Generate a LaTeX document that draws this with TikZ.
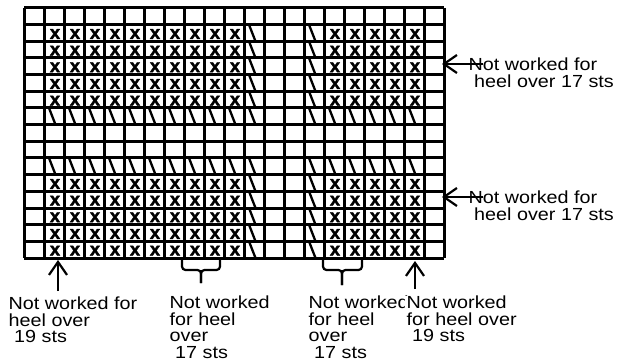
\documentclass[tikz,border=0pt]{standalone}
\usepackage{fontspec}
\setmainfont{Liberation Sans}
\newfontfamily\labfont[FakeStretch=1.13]{Liberation Sans}
\newfontfamily\xfont[FakeBold=2]{Liberation Sans Bold}
\usetikzlibrary{arrows.meta}
\begin{document}
\begin{tikzpicture}[x=1pt,y=-1pt,
  gridline/.style={line width=3pt},
  slashmark/.style={line width=2.3pt},
  xmark/.style={inner sep=0pt, font=\xfont\fontsize{18.5}{18.5}\selectfont},
  lab/.style={inner sep=0pt, anchor=north west, align=left, font=\labfont\fontsize{17.5}{16.7}\selectfont},
  arr/.style={line width=2.2pt, -{Straight Barb[length=13pt,width=18pt,line width=2.2pt]}},
  bracepath/.style={line width=2.2pt, rounded corners=3.5pt}
]
\useasboundingbox (0,0) rectangle (617,363);
\pgfmathsetmacro{\rh}{250/15}
% slashes in rows 7 and 10
\foreach \j in {6,9}{
  \foreach \i in {1,...,11,14,15,...,19}{
    \draw[slashmark] ({24+20*\i+5},{8+\rh*\j}) -- ({24+20*\i+11.5},{8+\rh*(\j+1)});
  }
}
% slashes in columns 12 and 15
\foreach \j in {1,...,5,10,11,...,14}{
  \foreach \i in {11,14}{
    \draw[slashmark] ({24+20*\i+5},{8+\rh*\j}) -- ({24+20*\i+11.5},{8+\rh*(\j+1)});
  }
}
% x marks
\foreach \j in {1,...,5,10,11,...,14}{
  \foreach \i in {1,...,10,15,16,...,19}{
    \node[xmark] (m-\i-\j) at ({24+20*\i+11},{8+\rh*(\j+0.5)+1}) {x};
  }
}
% grid
\foreach \i in {0,...,21}{
  \draw[gridline] ({24+20*\i},8) -- ({24+20*\i},258);
}
\foreach \j in {0,...,15}{
  \draw[gridline] (24,{8+\rh*\j}) -- (444,{8+\rh*\j});
}
% right arrows and labels
\coordinate (ra1) at (442,64);
\coordinate (rs1) at (483,64);
\coordinate (ra2) at (442,197);
\coordinate (rs2) at (483,197);
\draw[arr] (rs1) -- (ra1);
\draw[arr] (rs2) -- (ra2);
\node[lab] (r1) at (468.5,57.5) {Not worked for\\\ heel over 17 sts};
\node[lab] (r2) at (468.5,191) {Not worked for\\\ heel over 17 sts};
% bottom arrows
\coordinate (ba1) at (58,260);
\coordinate (bs1) at (58,291);
\coordinate (ba2) at (415,261);
\coordinate (bs2) at (415,289);
\draw[arr] (bs1) -- (ba1);
\draw[arr] (bs2) -- (ba2);
% braces
\coordinate (b1l) at (182,258);
\coordinate (b1r) at (220,258);
\coordinate (b1c) at (201,270);
\coordinate (b1e) at (201,283);
\draw[bracepath] (b1l) -- (b1l |- b1c) -- (b1c) -- (b1e);
\draw[bracepath] (b1r) -- (b1r |- b1c) -- (b1c) -- (b1e);
\coordinate (b2l) at (323,258);
\coordinate (b2r) at (362,258);
\coordinate (b2c) at (342,270);
\coordinate (b2e) at (342,285);
\draw[bracepath] (b2l) -- (b2l |- b2c) -- (b2c) -- (b2e);
\draw[bracepath] (b2r) -- (b2r |- b2c) -- (b2c) -- (b2e);
% bottom labels
\node[lab] (l1) at (8.5,296.5) {Not worked for\\heel over\\\ 19 sts};
\node[lab] (l2) at (169.5,295.5) {Not worked\\for heel\\over\\\ 17 sts};
\node[lab] (l3) at (308.5,295.5) {Not worked\\for heel\\over\\\ 17 sts};
\node[lab, fill=white, inner xsep=2pt] (l4) at (404.5,295.5) {Not worked\\for heel over\\\ 19 sts};
\end{tikzpicture}
\end{document}
